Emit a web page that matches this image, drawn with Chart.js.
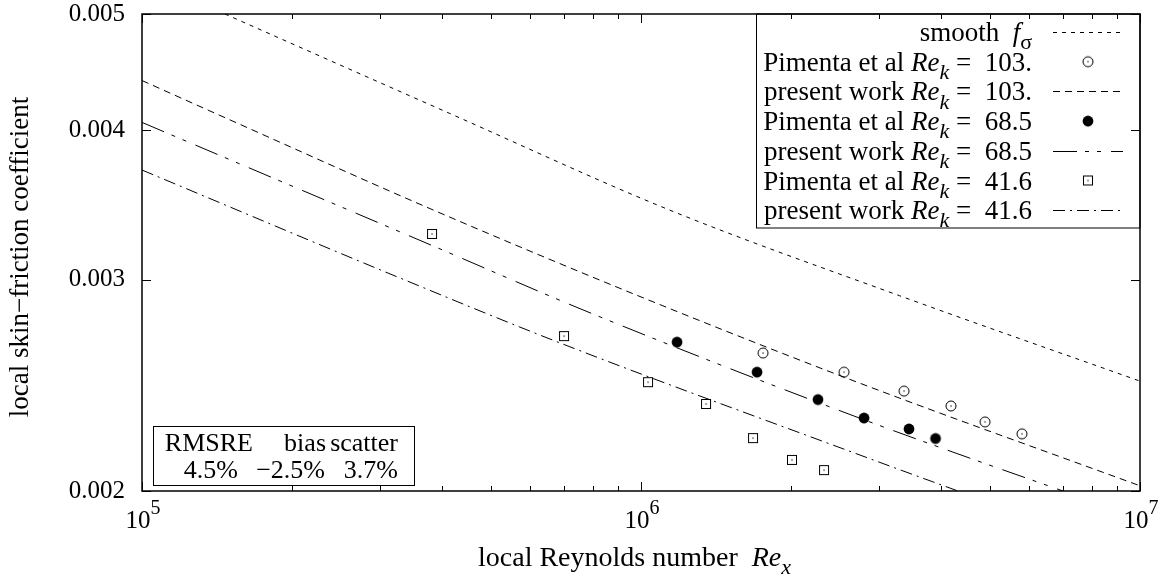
<!DOCTYPE html>
<html><head><meta charset="utf-8">
<script src="https://cdn.jsdelivr.net/npm/chart.js@4.4.1/dist/chart.umd.min.js"></script>
<style>html,body{margin:0;padding:0;background:#fff}#wrap{width:1167px;height:579px;position:relative}</style>
</head><body><div id="wrap"><canvas id="c" width="1167" height="579"></canvas></div>
<script>
// ---------- data ----------
const smoothRe = [1.466e5, 4.14e5, 1.143e6, 3.30e6, 1.0e7];
const smoothCf = [0.00500, 0.00413, 0.00343, 0.00291, 0.00247];

const pim103Re = [1.756e6, 2.552e6, 3.366e6, 4.180e6, 4.891e6, 5.800e6];
const pim103Cf = [0.002607, 0.002513, 0.002423, 0.002355, 0.002284, 0.002232];
const pres103Re = [1.0e5, 1.50e5, 3.78e5, 1.028e6, 2.747e6, 1.0e7];
const pres103Cf = [0.00440, 0.00408, 0.00344, 0.00289, 0.00246, 0.00202];

const pim685Re = [1.181e6, 1.708e6, 2.263e6, 2.799e6, 3.444e6, 3.893e6];
const pim685Cf = [0.002662, 0.002513, 0.002384, 0.002301, 0.002253, 0.002212];
const pres685Re = [1.0e5, 3.78e5, 8.01e5, 2.747e6, 7.01e6, 1.0e7];
const pres685Cf = [0.00406, 0.00321, 0.00281, 0.00230, 0.00200, 0.00190];

const pim416Re = [3.813e5, 7.010e5, 1.033e6, 1.350e6, 1.677e6, 2.007e6, 2.327e6];
const pim416Cf = [0.003277, 0.002693, 0.002465, 0.002364, 0.002214, 0.002123, 0.002082];
const pres416Re = [1.0e5, 3.289e5, 6.88e5, 2.747e6, 4.318e6, 1.0e7];
const pres416Cf = [0.003705, 0.003011, 0.002658, 0.002143, 0.002000, 0.001764];

const xMajorTicks = [1e5, 1e6, 1e7];
const xTickExponents = ['5', '6', '7'];
const yTicks = [0.002, 0.003, 0.004, 0.005];
const yTickLabels = ['0.002', '0.003', '0.004', '0.005'];

const statHeads = ['RMSRE', 'bias', 'scatter'];
const statValues = ['4.5%', '\u22122.5%', '3.7%'];

// ---------- helpers ----------
const FONT = '"Liberation Serif", "Times New Roman", serif';
const xy = (xs, ys) => xs.map((x, i) => ({x: x, y: ys[i]}));

function marker(kind) {
  const c = document.createElement('canvas');
  c.width = 16; c.height = 16;
  const g = c.getContext('2d');
  g.strokeStyle = '#000'; g.fillStyle = '#000'; g.lineWidth = 1;
  if (kind === 'ocircle') {
    g.beginPath(); g.arc(8, 8, 5, 0, 2 * Math.PI); g.stroke();
    g.beginPath(); g.arc(8, 8, 0.7, 0, 2 * Math.PI); g.fill();
  } else if (kind === 'fcircle') {
    g.beginPath(); g.arc(8, 8, 5.4, 0, 2 * Math.PI); g.fill();
  } else {
    g.strokeRect(3.5, 3.5, 9, 9);
    g.beginPath(); g.arc(8, 8, 0.7, 0, 2 * Math.PI); g.fill();
  }
  return c;
}
const mOpen = marker('ocircle'), mFill = marker('fcircle'), mSq = marker('osquare');

const lineDs = (label, xs, ys, dash) => ({
  label: label, data: xy(xs, ys), showLine: true, pointRadius: 0, pointHoverRadius: 0,
  borderColor: '#000', borderWidth: 1, borderDash: dash, fill: false, cubicInterpolationMode: 'monotone'
});
const ptDs = (label, xs, ys, img) => ({
  label: label, data: xy(xs, ys), showLine: false, pointStyle: img, pointRadius: 5, pointHoverRadius: 5
});

const datasets = [
  lineDs('smooth', smoothRe, smoothCf, [4, 5]),
  ptDs('Pimenta 103', pim103Re, pim103Cf, mOpen),
  lineDs('present 103', pres103Re, pres103Cf, [7, 5]),
  ptDs('Pimenta 68.5', pim685Re, pim685Cf, mFill),
  lineDs('present 68.5', pres685Re, pres685Cf, [24, 8, 4, 8, 4, 10]),
  ptDs('Pimenta 41.6', pim416Re, pim416Cf, mSq),
  lineDs('present 41.6', pres416Re, pres416Cf, [12, 5, 2, 5])
];

const legendRows = [
  [{t: 'smooth  '}, {t: 'f', it: 1}, {t: '\u03c3', sub: 1}],
  [{t: 'Pimenta et al '}, {t: 'Re', it: 1}, {t: 'k', it: 1, sub: 1}, {t: ' =  103.'}],
  [{t: 'present work '}, {t: 'Re', it: 1}, {t: 'k', it: 1, sub: 1}, {t: ' =  103.'}],
  [{t: 'Pimenta et al '}, {t: 'Re', it: 1}, {t: 'k', it: 1, sub: 1}, {t: ' =  68.5'}],
  [{t: 'present work '}, {t: 'Re', it: 1}, {t: 'k', it: 1, sub: 1}, {t: ' =  68.5'}],
  [{t: 'Pimenta et al '}, {t: 'Re', it: 1}, {t: 'k', it: 1, sub: 1}, {t: ' =  41.6'}],
  [{t: 'present work '}, {t: 'Re', it: 1}, {t: 'k', it: 1, sub: 1}, {t: ' =  41.6'}]
];

function fontFor(s, size) {
  const sz = (s.sub || s.sup) ? Math.round(size * 0.8) : size;
  return (s.it ? 'italic ' : '') + sz + 'px ' + FONT;
}
function richWidth(ctx, segs, size) {
  let w = 0;
  segs.forEach(s => { ctx.font = fontFor(s, size); w += ctx.measureText(s.t).width; });
  return w;
}
function drawRich(ctx, segs, x, yBase, size) {
  segs.forEach(s => {
    ctx.font = fontFor(s, size);
    const dy = s.sub ? size * 0.3 : (s.sup ? -size * 0.55 : 0);
    ctx.fillText(s.t, x, yBase + dy);
    x += ctx.measureText(s.t).width;
  });
  return x;
}

const framePlugin = {
  id: 'frame',
  afterDraw(chart) {
    const ctx = chart.ctx, a = chart.chartArea;
    const sx = chart.scales.x, sy = chart.scales.y;
    ctx.save();
    ctx.strokeStyle = '#000'; ctx.fillStyle = '#000';
    // frame
    ctx.lineWidth = 1.5;
    ctx.strokeRect(a.left, a.top, a.right - a.left, a.bottom - a.top);
    // x ticks (inward, mirrored)
    ctx.lineWidth = 1;
    sx.ticks.forEach(t => {
      const px = Math.round(sx.getPixelForValue(t.value)) + 0.5;
      const len = xMajorTicks.includes(t.value) ? 9 : 5;
      ctx.beginPath();
      ctx.moveTo(px, a.bottom); ctx.lineTo(px, a.bottom - len);
      ctx.moveTo(px, a.top); ctx.lineTo(px, a.top + len);
      ctx.stroke();
    });
    sy.ticks.forEach(t => {
      const py = Math.round(sy.getPixelForValue(t.value)) + 0.5;
      ctx.beginPath();
      ctx.moveTo(a.left, py); ctx.lineTo(a.left + 9, py);
      ctx.moveTo(a.right, py); ctx.lineTo(a.right - 9, py);
      ctx.stroke();
    });
    // x tick labels 10^n
    ctx.textBaseline = 'alphabetic'; ctx.textAlign = 'left';
    xMajorTicks.forEach((v, i) => {
      const segs = [{t: '10'}, {t: xTickExponents[i], sup: 1}];
      const w = richWidth(ctx, segs, 25);
      drawRich(ctx, segs, sx.getPixelForValue(v) - w / 2 + 1, 528, 25);
    });
    // axis titles
    drawRich(ctx, [{t: 'local Reynolds number  '}, {t: 'Re', it: 1}, {t: 'x', it: 1, sub: 1}], 478, 566, 28);
    ctx.save();
    ctx.translate(21, 257); ctx.rotate(-Math.PI / 2);
    ctx.font = '27px ' + FONT; ctx.textAlign = 'center'; ctx.textBaseline = 'middle';
    ctx.fillText('local skin\u2212friction coefficient', 0, 0);
    ctx.restore();

    // legend box
    ctx.lineWidth = 1;
    ctx.strokeRect(756.5, a.top, a.right - 756.5, 214);
    const rowY0 = 32, rowH = 29.7, textRight = 1032, sL = 1053, sR = 1123, sC = 1088;
    legendRows.forEach((segs, i) => {
      const cy = rowY0 + i * rowH;
      const w = richWidth(ctx, segs, 27);
      drawRich(ctx, segs, textRight - w, cy + 9, 27);
      const d = chart.data.datasets[i];
      if (d.showLine) {
        ctx.save();
        ctx.setLineDash(d.borderDash); ctx.lineWidth = d.borderWidth;
        ctx.beginPath(); ctx.moveTo(sL, Math.round(cy) + 0.5); ctx.lineTo(sR, Math.round(cy) + 0.5); ctx.stroke();
        ctx.restore();
      } else {
        ctx.drawImage(d.pointStyle, sC - 8, cy - 8);
      }
    });

    // statistics box
    ctx.strokeRect(153.5, 426.5, 261, 59);
    ctx.font = '26px ' + FONT; ctx.textAlign = 'right';
    const colRight = [253, 326, 398];
    statHeads.forEach((s, i) => ctx.fillText(s, colRight[i], 451));
    const valRight = [238, 325, 398];
    statValues.forEach((s, i) => ctx.fillText(s, valRight[i], 478));
    ctx.restore();
  }
};

const minorX = [];
[1e5, 1e6].forEach(d => { for (let m = 1; m < 10; m++) minorX.push(d * m); });
minorX.push(1e7);

new Chart(document.getElementById('c'), {
  type: 'scatter',
  data: {datasets: datasets},
  options: {
    responsive: false, animation: false, devicePixelRatio: 1,
    layout: {padding: {left: 0, top: 14, right: 27, bottom: 0}},
    plugins: {legend: {display: false}, tooltip: {enabled: false}},
    scales: {
      x: {
        type: 'logarithmic', min: 1e5, max: 1e7,
        grid: {display: false, drawTicks: false}, border: {display: false},
        ticks: {display: false},
        afterBuildTicks: s => { s.ticks = minorX.map(v => ({value: v})); },
        afterFit: s => { s.height = 88; s.paddingLeft = 0; s.paddingRight = 0; }
      },
      y: {
        type: 'logarithmic', min: 0.002, max: 0.005,
        grid: {display: false, drawTicks: false}, border: {display: false},
        ticks: {
          color: '#000', padding: 17, font: {family: FONT, size: 25},
          callback: (v, i) => yTickLabels[i]
        },
        afterBuildTicks: s => { s.ticks = yTicks.map(v => ({value: v})); },
        afterFit: s => { s.width = 142; s.paddingTop = 0; s.paddingBottom = 0; }
      }
    }
  },
  plugins: [framePlugin]
});
</script></body></html>
